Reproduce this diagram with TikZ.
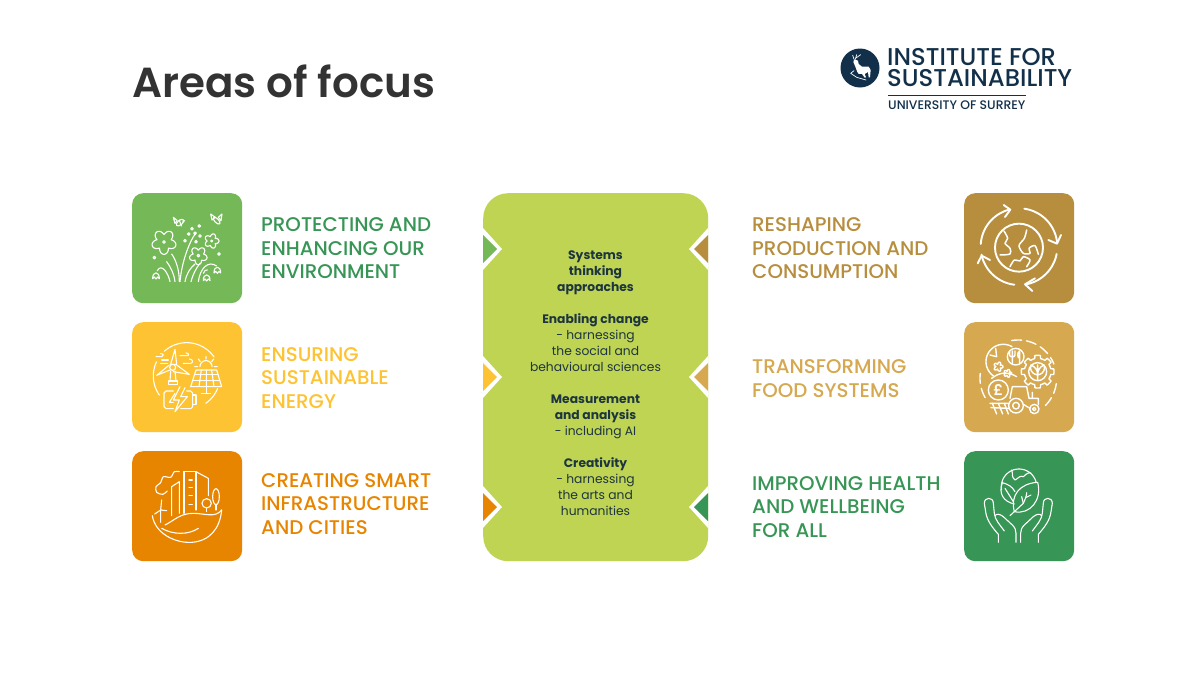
\documentclass[tikz,border=0pt]{standalone}
\usepackage{fontspec}
\setmainfont{Poppins}
\newfontfamily\medfont{Poppins Medium}
\newfontfamily\semifont{Poppins SemiBold}
\usetikzlibrary{calc}
\definecolor{titlegrey}{HTML}{333333}
\definecolor{navy}{HTML}{12304A}
\definecolor{inktext}{HTML}{1D3540}
\definecolor{cgreen}{HTML}{74B857}
\definecolor{cyellow}{HTML}{FDC332}
\definecolor{corange}{HTML}{E88500}
\definecolor{cbrown}{HTML}{B78E3E}
\definecolor{ctan}{HTML}{D6A84F}
\definecolor{cdeep}{HTML}{379555}
\definecolor{ccentre}{HTML}{BFD452}
\tikzset{
  tile/.style={minimum width=110pt,minimum height=110pt,rounded corners=11pt,inner sep=0pt,fill=#1,anchor=north west},
  lab/.style={text=#1,anchor=west,align=left,inner sep=0pt,font=\medfont\fontsize{19.8}{23.5}\selectfont},
  ic/.style={draw=white,line width=1.1pt,line cap=round,line join=round},
  icb/.style={draw=white,line width=1.9pt,line cap=round,line join=round},
}
% centre x, centre y, radius, start angle, end angle
\newcommand{\ArcP}[5]{plot[domain=#4:#5,samples=40,smooth] ({#1+#3*cos(\x)},{#2+#3*sin(\x)})}
\newcommand{\Rose}[5]{plot[domain=0:360,samples=110,smooth] ({#1+(#3+#4*abs(cos(2.5*(\x-#5))))*cos(\x)},{#2+(#3+#4*abs(cos(2.5*(\x-#5))))*sin(\x)})}
\newcommand{\Bell}[2]{(#1-10,#2+11) .. controls (#1-11,#2-12) and (#1+11,#2-12) .. (#1+10,#2+11) -- (#1+5,#2+6) -- (#1,#2+12) -- (#1-5,#2+6) -- cycle}
\newcommand{\Notch}[4]{%
  \fill[white] (#1,#2-21) -- (#1+#3*19,#2) -- (#1,#2+21) -- cycle;
  \fill[#4] (#1,#2-14) -- (#1+#3*14,#2) -- (#1,#2+14) -- cycle;}
\begin{document}
\begin{tikzpicture}[x=1pt,y=-1pt]
\useasboundingbox (0,0) rectangle (1200,675);
\fill[white] (0,0) rectangle (1200,675);

\node[anchor=west,inner sep=0pt,text=titlegrey,font=\semifont\fontsize{42}{42}\selectfont] (title) at (132,81) {Areas of focus};

% logo
\fill[navy] (860,68) circle[radius=19.5];
\begin{scope}[shift={(830,40)},x=0.3333pt,y=-0.3333pt]
  \fill[white] (73,58) -- (84,62) -- (86,72) -- (96,80) -- (116,80) -- (122,90) -- (120,112) -- (116,112) -- (114,96) -- (104,102) -- (108,112) -- (104,113) -- (96,102) -- (86,102) -- (82,96) -- (76,80) -- (70,66) -- cycle;
  \draw[white,line width=0.7pt,line cap=round] (76,58) -- (80,44) (78,54) -- (92,44) (72,58) -- (68,46) (62,100) -- (80,112) -- (108,120) (62,100) -- (72,92);
\end{scope}
\node[anchor=west,inner sep=0pt,text=navy,font=\medfont\fontsize{24.3}{24.3}\selectfont] (logoa) at (887,57) {INSTITUTE FOR};
\node[anchor=west,inner sep=0pt,text=navy,font=\medfont\fontsize{24.3}{24.3}\selectfont] (logob) at (887,78.5) {SUSTAINABILITY};
\draw[navy,line width=0.7pt] (888,95) -- (1026,95);
\node[anchor=west,inner sep=0pt,text=navy,font=\medfont\fontsize{12.4}{12.4}\selectfont] (logoc) at (888,105) {UNIVERSITY OF SURREY};

% centre panel
\node[anchor=north west,minimum width=225pt,minimum height=368pt,rounded corners=25pt,fill=ccentre,inner sep=0pt] (panel) at (483,193) {};
\Notch{483}{249}{1}{cgreen}
\Notch{483}{377}{1}{cyellow}
\Notch{483}{507}{1}{corange}
\Notch{708}{249}{-1}{cbrown}
\Notch{708}{377}{-1}{ctan}
\Notch{708}{507}{-1}{cdeep}
\node[align=center,inner sep=0pt,text=inktext,font=\fontsize{12.3}{16}\selectfont] (centretext) at (595.5,383.5) {%
\textbf{Systems}\\\textbf{thinking}\\\textbf{approaches}\\~\\
\textbf{Enabling change}\\- harnessing\\the social and\\behavioural sciences\\~\\
\textbf{Measurement}\\\textbf{and analysis}\\- including AI\\~\\
\textbf{Creativity}\\- harnessing\\the arts and\\humanities};

% tiles
\node[tile=cgreen] (t1) at (132,193) {};
\node[tile=cyellow] (t2) at (132,322) {};
\node[tile=corange] (t3) at (132,451) {};
\node[tile=cbrown] (t4) at (964,193) {};
\node[tile=ctan] (t5) at (964,322) {};
\node[tile=cdeep] (t6) at (964,451) {};

% labels
\node[lab=cdeep] (l1) at (261,248.5) {PROTECTING AND\\ENHANCING OUR\\ENVIRONMENT};
\node[lab=cyellow] (l2) at (261,378) {ENSURING\\SUSTAINABLE\\ENERGY};
\node[lab=corange] (l3) at (261,504) {CREATING SMART\\INFRASTRUCTURE\\AND CITIES};
\node[lab=cbrown] (l4) at (752,248.5) {RESHAPING\\PRODUCTION AND\\CONSUMPTION};
\node[lab=ctan] (l5) at (752,378.5) {TRANSFORMING\\FOOD SYSTEMS};
\node[lab=cdeep] (l6) at (752,507) {IMPROVING HEALTH\\AND WELLBEING\\FOR ALL};

% icon 1: flowers
\begin{scope}[shift={(120,180)},x=0.3333pt,y=-0.3333pt]
  \draw[ic] \Rose{132}{186}{22}{15}{18};
  \draw[ic] \Rose{235}{227}{16}{11}{18};
  \draw[ic] \Rose{275}{183}{13}{9}{0};
  \draw[ic] (132,186) circle[radius=4] (235,227) circle[radius=4] (275,183) circle[radius=3];
  \foreach \a/\b in {103/233,238/138,216/146,206/162,195/182,228/185,240/168,297/222,225/160}
    \draw[ic] (\a,\b) circle[radius=4];
  \draw[ic] (180,305) .. controls (185,250) and (205,190) .. (228,158);
  \draw[ic] (178,305) .. controls (178,270) and (168,240) .. (155,222);
  \draw[ic] (165,305) .. controls (162,280) and (152,262) .. (140,245);
  \draw[ic] (150,305) .. controls (145,280) and (125,248) .. (112,272);
  \draw[ic] (195,305) .. controls (200,280) and (210,265) .. (225,252);
  \draw[ic] (213,305) .. controls (218,285) and (228,265) .. (240,250);
  \draw[ic] (235,305) .. controls (240,265) and (265,240) .. (290,258);
  \draw[ic] (250,280) .. controls (253,272) and (258,268) .. (262,270);
  \draw[ic] \Bell{108}{285};
  \draw[ic] \Bell{260}{291};
  \draw[ic] \Bell{292}{268};
  \draw[ic,rotate around={40:(180,128)}] (180,128) ellipse[x radius=13,y radius=7];
  \draw[ic] (172,122) -- (160,112) -- (165,130) -- (172,122) (188,126) -- (194,122) (178,120) -- (184,138);
  \draw[ic,rotate around={-45:(290,122)}] (290,122) ellipse[x radius=13,y radius=6];
  \draw[ic] (286,112) -- (272,102) -- (276,120) -- (286,112) (295,112) -- (306,102) -- (303,122) -- (295,112);
\end{scope}

% icon 2: energy
\begin{scope}[shift={(120,315)},x=0.3333pt,y=-0.3333pt]
  \draw[ic] \ArcP{200}{183}{100}{-132}{-35};
  \draw[ic] \ArcP{200}{183}{100}{145}{205};
  \draw[ic] \ArcP{200}{183}{100}{22}{55};
  \draw[ic] (152,148) -- (165,103) -- (170,148) -- cycle;
  \draw[ic] (150,165) -- (110,181) -- (148,150);
  \draw[ic] (170,150) -- (208,178) -- (160,170);
  \draw[ic] (158,157) circle[radius=9];
  \draw[ic] (152,168) -- (150,198) (165,168) -- (168,198);
  \draw[ic] (145,198) rectangle (172,208);
  \draw[ic] (108,125) -- (125,125) .. controls (132,125) and (132,115) .. (122,116);
  \draw[ic] (122,145) -- (142,145) (125,135) -- (145,135);
  \draw[ic] (180,122) -- (200,122) .. controls (208,122) and (208,114) .. (198,114);
  \draw[ic] (190,145) -- (212,145) .. controls (220,145) and (220,132) .. (208,132);
  \draw[ic] (228,165) -- (290,165) -- (305,215) -- (212,215) -- cycle;
  \draw[ic] (224,178) -- (294,178) (218,196) -- (299,196);
  \draw[ic] (244,165) -- (237,215) (259,165) -- (259,215) (275,165) -- (282,215);
  \draw[ic] (259,215) -- (259,235) (245,235) -- (272,235);
  \draw[ic] \ArcP{258}{155}{18}{-180}{0};
  \draw[ic] (258,124) -- (258,132) (235,132) -- (241,140) (281,132) -- (275,140) (224,155) -- (233,155) (292,155) -- (283,155);
  \draw[ic] (160,228) -- (138,228) -- (132,234) -- (132,275) -- (138,281) -- (160,281);
  \draw[ic] (200,228) -- (212,228) -- (218,234) -- (218,275) -- (212,281) -- (182,281);
  \draw[ic] (218,240) -- (228,240) -- (228,268) -- (218,268);
  \draw[ic] (180,215) -- (160,255) -- (178,255) -- (165,290) -- (202,245) -- (182,245) -- (195,218);
  \draw[ic] (165,235) -- (148,262) -- (160,262);
\end{scope}

% icon 3: city
\begin{scope}[shift={(120,445)},x=0.3333pt,y=-0.3333pt]
  \draw[ic] (192,205) -- (192,80) -- (228,80) -- (228,195);
  \draw[ic] (228,80) -- (265,100) -- (265,152);
  \foreach \b in {105,128,152,178} \draw[ic] (207,\b) -- (217,\b);
  \draw[ic] (178,205) -- (178,110) -- (155,125) -- (155,212);
  \draw[ic] plot[smooth] coordinates {(178,80) (163,80) (152,97) (130,95) (122,113) (108,125) (110,142) (128,148) (142,138)};
  \draw[ic] (122,195) -- (125,165) (122,195) -- (104,207) (122,195) -- (140,197) (122,198) -- (122,232);
  \draw[ic] (260,175) circle[radius=14];
  \draw[ic] (260,189) -- (260,200);
  \draw[ic] (288,155) ellipse[x radius=10,y radius=24];
  \draw[ic] (288,179) -- (288,195);
  \draw[ic] (97,212) .. controls (105,265) and (165,295) .. (215,292) .. controls (270,288) and (300,250) .. (305,195);
  \draw[ic] (135,240) .. controls (165,225) and (180,205) .. (220,205) .. controls (255,205) and (285,220) .. (305,195);
  \draw[ic] (125,250) .. controls (160,270) and (205,270) .. (235,250);
\end{scope}

% icon 4: globe and arrows
\begin{scope}[shift={(955,185)},x=0.3333pt,y=-0.3333pt]
  \draw[icb] (192,188) circle[radius=72];
  \draw[ic,line width=1.5pt] plot[smooth] coordinates {(147,138) (158,160) (150,175) (165,190) (165,207) (135,210)};
  \draw[ic,line width=1.5pt] plot[smooth] coordinates {(215,135) (208,160) (192,182) (205,205) (225,205) (222,190) (240,182) (250,208)};
  \draw[ic,line width=1.5pt] plot[smooth] coordinates {(165,245) (178,225) (195,228) (205,215) (225,225) (215,245)};
  \draw[icb] \ArcP{192}{185}{115}{-176}{-104};
  \draw[icb] \ArcP{192}{185}{115}{-82}{-5};
  \draw[icb] \ArcP{192}{185}{115}{11}{79};
  \draw[icb] \ArcP{192}{185}{115}{97}{168};
  \draw[icb] (146,60) -- (166,74) -- (150,96);
  \draw[icb] (318,150) -- (306,176) -- (280,165);
  \draw[icb] (240,280) -- (210,298) -- (232,318);
  \draw[icb] (68,235) -- (80,212) -- (105,225);
\end{scope}

% icon 5: food
\begin{scope}[shift={(955,315)},x=0.3333pt,y=-0.3333pt]
  \draw[ic,line width=1.4pt,dash pattern=on 10pt off 5pt] \ArcP{190}{190}{115}{-100}{-22};
  \draw[ic,line width=1.4pt,dash pattern=on 10pt off 5pt] \ArcP{190}{190}{115}{150}{190};
  \draw[ic,line width=1.4pt,dash pattern=on 10pt off 5pt] \ArcP{190}{190}{115}{8}{52};
  \draw[ic,line width=1.4pt] \ArcP{145}{140}{52}{125}{300};
  \draw[ic,line width=1.4pt] (182,125) circle[radius=25];
  \draw[ic,line width=1.4pt] (172,108) -- (172,145) (180,108) -- (180,120) .. controls (180,128) and (164,128) .. (164,120) -- (164,108);
  \draw[ic,line width=1.4pt] (194,145) -- (194,108) .. controls (186,112) and (186,128) .. (194,130);
  \draw[ic,line width=1.4pt] (105,120) -- (125,125) -- (122,100);
  \draw[ic,line width=1.4pt] (110,190) .. controls (135,170) and (160,170) .. (185,185);
  \draw[ic,line width=1.4pt] \Rose{130}{155}{7}{7}{0};
  \draw[ic,line width=1.4pt] \Rose{158}{175}{6}{6}{0};
  \draw[ic,line width=1.4pt] plot[domain=0:360,samples=145] ({248+(40+9*(cos(8*\x)>0))*cos(\x)},{170+(40+9*(cos(8*\x)>0))*sin(\x)});
  \draw[ic,line width=1.4pt] (248,170) circle[radius=27];
  \draw[ic,line width=1.4pt] (248,196) -- (248,150) (248,180) .. controls (225,175) and (225,160) .. (228,150) .. controls (240,155) and (248,165) .. (248,180) (248,180) .. controls (270,175) and (270,160) .. (267,150) .. controls (255,155) and (248,165) .. (248,180);
  \draw[ic,line width=1.4pt] (130,225) circle[radius=30];
  \node[inner sep=0pt,text=white,font=\semifont\fontsize{15}{15}\selectfont] (pound) at (130,225) {£};
  \draw[ic,line width=1.4pt] (183,272) circle[radius=22] (183,272) circle[radius=10];
  \draw[ic,line width=1.4pt] (238,282) circle[radius=14] (238,282) circle[radius=5];
  \draw[ic,line width=1.4pt] (165,250) -- (172,215) -- (215,215) -- (222,250) -- (250,250) -- (250,268);
  \draw[ic,line width=1.4pt] (232,250) -- (232,232) (205,268) -- (225,280);
  \draw[ic,line width=1.4pt] (105,265) -- (160,265) (108,278) -- (162,280);
  \draw[ic,line width=1.4pt] (112,265) -- (125,297) (130,265) -- (143,297) (148,265) -- (160,297);
\end{scope}

% icon 6: hands and leaf
\begin{scope}[shift={(955,445)},x=0.3333pt,y=-0.3333pt]
  \draw[ic] \ArcP{192}{125}{53}{-190}{-15};
  \draw[ic] (170,75) .. controls (175,88) and (168,95) .. (180,105) .. controls (190,100) and (195,90) .. (205,95) .. controls (215,85) and (225,80) .. (228,85);
  \draw[ic] (178,200) .. controls (165,150) and (195,115) .. (248,112) .. controls (262,165) and (225,210) .. (178,200) -- cycle;
  \draw[ic] (165,212) -- (205,175) .. controls (212,160) and (215,150) .. (215,143);
  \draw[ic] (205,175) -- (200,155) (212,158) -- (228,150);
  \draw[ic] (178,177) .. controls (145,170) and (130,145) .. (142,113) .. controls (160,118) and (172,125) .. (180,140);
  \draw[ic] (175,170) -- (150,130);
  \foreach \ux/\sh in {0.3333pt/0,-0.3333pt/380}{
    \begin{scope}[shift={(\sh,0)},x=\ux]
    \draw[ic] (130,292) -- (130,268) .. controls (110,245) and (95,225) .. (92,200) -- (88,175) .. controls (88,155) and (115,155) .. (115,175) -- (118,205) .. controls (120,225) and (135,240) .. (148,258);
    \draw[ic] (120,212) .. controls (125,205) and (135,207) .. (145,215) -- (172,240) .. controls (180,248) and (183,255) .. (183,265) -- (183,292);
    \end{scope}}
\end{scope}
\end{tikzpicture}
\end{document}
